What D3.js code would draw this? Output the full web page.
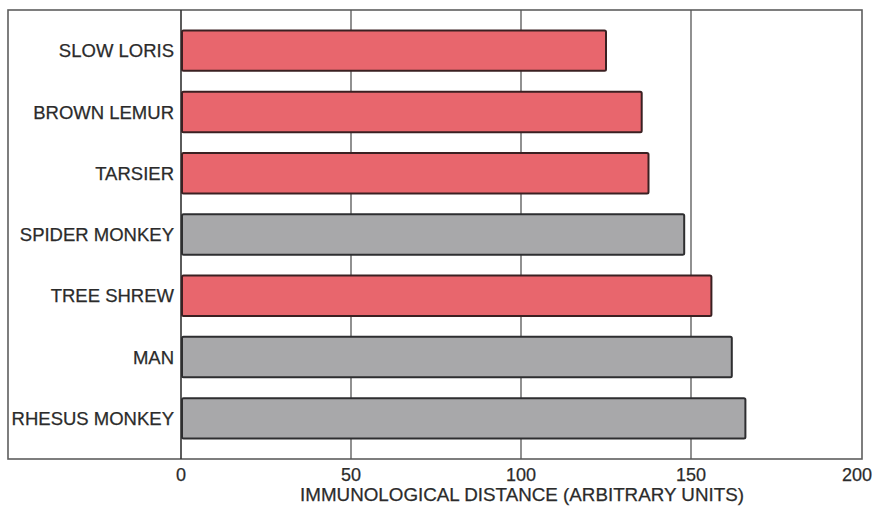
<!DOCTYPE html>
<html>
<head>
<meta charset="utf-8">
<script src="https://cdn.jsdelivr.net/npm/d3@7"></script>
<style>
  html, body { margin: 0; padding: 0; background: #fff; }
  svg { display: block; }
  text { font-family: "Liberation Sans", Arial, Helvetica, sans-serif; fill: #2b2b2b; stroke: #2b2b2b; stroke-width: 0.25px; }
</style>
</head>
<body>
<svg id="chart" width="873" height="506"></svg>
<script>
// Species and their immunological distance (arbitrary units)
const species = ["SLOW LORIS", "BROWN LEMUR", "TARSIER", "SPIDER MONKEY", "TREE SHREW", "MAN", "RHESUS MONKEY"];
const distance = [125, 135.5, 137.5, 148, 156, 162, 166];
// Prosimians are drawn in red, anthropoids in grey
const group = ["prosimian", "prosimian", "prosimian", "anthropoid", "prosimian", "anthropoid", "anthropoid"];
const xTicks = [0, 50, 100, 150, 200];
const xTitle = "IMMUNOLOGICAL DISTANCE (ARBITRARY UNITS)";

const svg = d3.select("#chart");
const frame = { left: 8, top: 10, right: 862, bottom: 459 };
const plotLeft = 181;

const x = d3.scaleLinear().domain([0, 200]).range([plotLeft, 861]);
const y = d3.scaleBand().domain(species).range([20, 449]).paddingInner(0.34).paddingOuter(0.17);

const fill = { prosimian: "#e8666d", anthropoid: "#a8a8aa" };
const edge = { prosimian: "#3a2022", anthropoid: "#2e2e30" };

// Outer frame around labels and plot
svg.append("rect")
  .attr("x", frame.left).attr("y", frame.top)
  .attr("width", frame.right - frame.left).attr("height", frame.bottom - frame.top)
  .attr("fill", "none").attr("stroke", "#5e5e5e").attr("stroke-width", 1.6);

// Vertical grid lines at each tick
svg.append("g").selectAll("line")
  .data(xTicks.slice(0, -1))
  .join("line")
  .attr("x1", d => x(d)).attr("x2", d => x(d))
  .attr("y1", frame.top).attr("y2", frame.bottom)
  .attr("stroke", d => d === 0 ? "#333" : "#555")
  .attr("stroke-width", d => d === 0 ? 1.6 : 1.3);

// Bars
svg.append("g").selectAll("rect")
  .data(species.map((s, i) => ({ s, v: distance[i], g: group[i] })))
  .join("rect")
  .attr("x", x(0) + 1)
  .attr("y", d => y(d.s))
  .attr("width", d => x(d.v) - x(0) - 1)
  .attr("height", y.bandwidth())
  .attr("rx", 1.5)
  .attr("fill", d => fill[d.g])
  .attr("stroke", d => edge[d.g])
  .attr("stroke-width", 2);

// Category labels
svg.append("g").selectAll("text")
  .data(species)
  .join("text")
  .attr("x", plotLeft - 7)
  .attr("y", d => y(d) + y.bandwidth() / 2)
  .attr("dy", "0.36em")
  .attr("text-anchor", "end")
  .attr("font-size", 18.5)
  .text(d => d);

// Tick labels
svg.append("g").selectAll("text")
  .data(xTicks)
  .join("text")
  .attr("x", d => x(d) - (d === 200 ? 4 : 0))
  .attr("y", 481)
  .attr("text-anchor", "middle")
  .attr("font-size", 18)
  .text(d => d);

// Axis title
svg.append("text")
  .attr("x", 522)
  .attr("y", 501)
  .attr("text-anchor", "middle")
  .attr("font-size", 18.8)
  .text(xTitle);
</script>
</body>
</html>
